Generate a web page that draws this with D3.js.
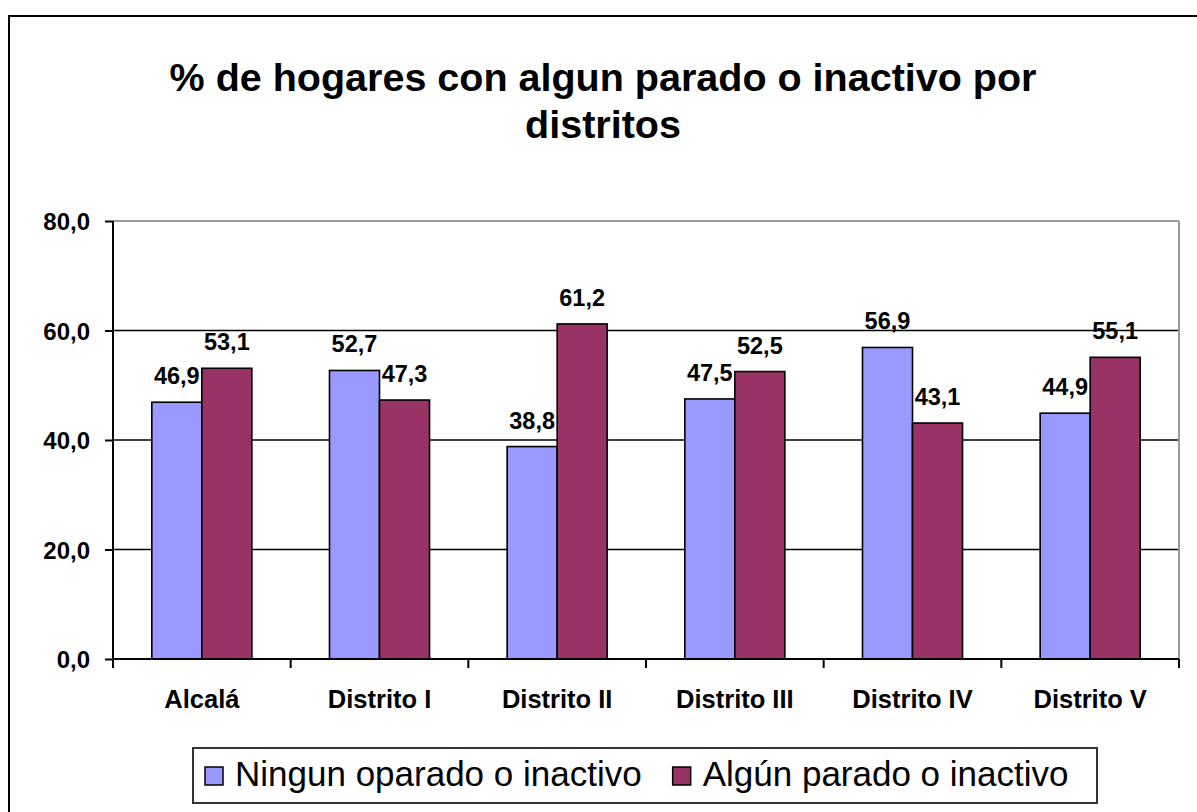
<!DOCTYPE html>
<html>
<head>
<meta charset="utf-8">
<script src="https://cdn.jsdelivr.net/npm/d3@7"></script>
<style>
  html, body { margin: 0; padding: 0; background: #fff; }
  svg { display: block; }
  text { font-family: "Liberation Sans", Arial, sans-serif; }
</style>
</head>
<body>
<svg id="chart" width="1197" height="812"></svg>
<script>
const categories = ["Alcalá", "Distrito I", "Distrito II", "Distrito III", "Distrito IV", "Distrito V"];
const ningunValues = [46.9, 52.7, 38.8, 47.5, 56.9, 44.9];
const algunValues = [53.1, 47.3, 61.2, 52.5, 43.1, 55.1];
const seriesNames = ["Ningun oparado o inactivo", "Algún parado o inactivo"];
const yTicks = [0, 20, 40, 60, 80];
const titleLines = ["% de hogares con algun parado o inactivo por", "distritos"];

const colors = ["#9999FF", "#993366"];
const svg = d3.select("#chart");
const W = 1197, H = 812;
const plot = { left: 113, right: 1179, top: 221, bottom: 659 };

// outer chart border (extends beyond the right/bottom of the picture)
svg.append("rect").attr("x", 9).attr("y", 16).attr("width", W + 20).attr("height", H + 20)
  .attr("fill", "#fff").attr("stroke", "#000").attr("stroke-width", 2);

// title
svg.append("g").selectAll("text").data(titleLines).join("text")
  .attr("x", 603).attr("y", (d, i) => 91 + i * 47)
  .attr("text-anchor", "middle").attr("font-size", 39.5).attr("font-weight", "bold")
  .attr("fill", "#000").text(d => d);

const x0 = d3.scaleBand().domain(categories).range([plot.left, plot.right])
  .paddingInner(0.437).paddingOuter(0.2185);
const x1 = d3.scaleBand().domain([0, 1]).range([0, x0.bandwidth()]);
const y = d3.scaleLinear().domain([0, 80]).range([plot.bottom, plot.top]);
const fmt = v => d3.format(".1f")(v).replace(".", ",");

// gridlines
svg.append("g").selectAll("line").data(yTicks.filter(t => t > 0)).join("line")
  .attr("x1", plot.left).attr("x2", plot.right)
  .attr("y1", d => y(d)).attr("y2", d => y(d))
  .attr("stroke", d => d === 80 ? "#999" : "#000").attr("stroke-width", d => d === 80 ? 2 : 1.3);
// right border of plot area
svg.append("line").attr("x1", plot.right).attr("x2", plot.right)
  .attr("y1", plot.top).attr("y2", plot.bottom).attr("stroke", "#999").attr("stroke-width", 2);

// bars
const rows = categories.map((c, i) => ({ c, vals: [ningunValues[i], algunValues[i]] }));
const groups = svg.append("g").selectAll("g").data(rows).join("g")
  .attr("transform", d => `translate(${x0(d.c)},0)`);
groups.selectAll("rect").data(d => d.vals.map((v, k) => ({ v, k }))).join("rect")
  .attr("x", d => x1(d.k)).attr("width", x1.bandwidth())
  .attr("y", d => y(d.v)).attr("height", d => y(0) - y(d.v))
  .attr("fill", d => colors[d.k]).attr("stroke", "#000").attr("stroke-width", 1.6);
groups.selectAll("text").data(d => d.vals.map((v, k) => ({ v, k }))).join("text")
  .attr("x", d => x1(d.k) + x1.bandwidth() / 2).attr("y", d => y(d.v) - 18)
  .attr("text-anchor", "middle").attr("font-size", 23.5).attr("font-weight", "bold")
  .attr("fill", "#000").text(d => fmt(d.v));

// y axis
const yAxis = svg.append("g").attr("transform", `translate(${plot.left},0)`)
  .call(d3.axisLeft(y).tickValues(yTicks).tickFormat(fmt).tickSize(8).tickPadding(15));
yAxis.select(".domain").attr("stroke", "#000").attr("stroke-width", 2)
  .attr("d", `M0,${plot.top}V${plot.bottom + 9}`);
yAxis.selectAll(".tick line").attr("stroke", "#000").attr("stroke-width", 2);
yAxis.selectAll(".tick text").attr("font-size", 24).attr("font-weight", "bold")
  .attr("font-family", '"Liberation Sans", Arial, sans-serif').attr("fill", "#000").attr("dy", "0.36em");

// x axis
const xAxis = svg.append("g").attr("transform", `translate(0,${plot.bottom})`)
  .call(d3.axisBottom(x0).tickSize(0).tickPadding(40));
xAxis.select(".domain").attr("stroke", "#000").attr("stroke-width", 2)
  .attr("d", `M${plot.left},0H${plot.right}`);
xAxis.selectAll(".tick text").attr("font-size", 25.5).attr("font-weight", "bold")
  .attr("font-family", '"Liberation Sans", Arial, sans-serif').attr("fill", "#000").attr("dy", "0.36em");
const bounds = d3.range(categories.length + 1).map(i => plot.left + i * x0.step());
xAxis.append("g").selectAll("line").data(bounds).join("line")
  .attr("x1", d => d).attr("x2", d => d).attr("y1", 0).attr("y2", 9)
  .attr("stroke", "#000").attr("stroke-width", 2);

// legend
const lg = svg.append("g");
lg.append("rect").attr("x", 193).attr("y", 748).attr("width", 904).attr("height", 55)
  .attr("fill", "#fff").attr("stroke", "#333").attr("stroke-width", 2);
let lx = 205;
seriesNames.forEach((name, k) => {
  lg.append("rect").attr("x", lx).attr("y", 767).attr("width", 18).attr("height", 18)
    .attr("fill", colors[k]).attr("stroke", "#000").attr("stroke-width", 1.5);
  const t = lg.append("text").attr("x", lx + 30).attr("y", 786).attr("font-size", 35)
    .attr("fill", "#000").text(name);
  lx = lx + 30 + t.node().getComputedTextLength() + 31;
});
</script>
</body>
</html>
